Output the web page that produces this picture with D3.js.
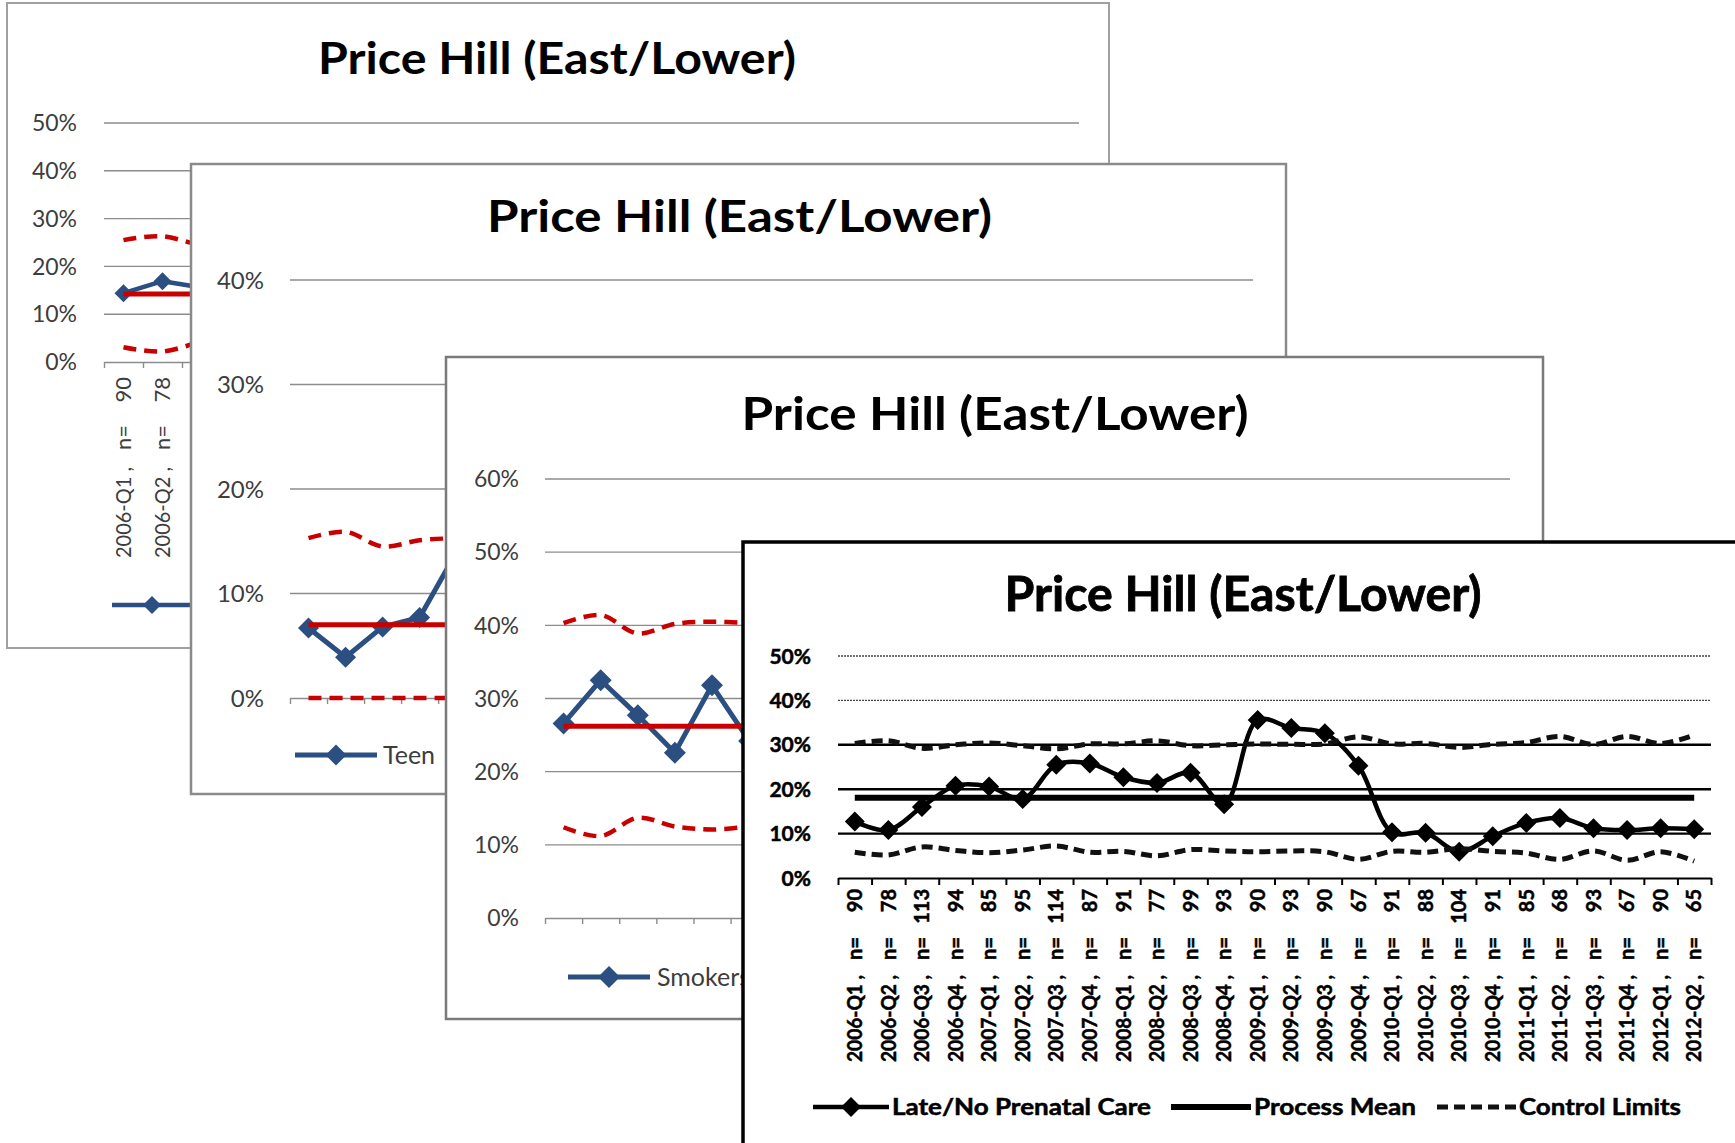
<!DOCTYPE html>
<html>
<head>
<meta charset="utf-8">
<script src="https://cdn.jsdelivr.net/npm/d3@7"></script>
<style>
  html, body { margin: 0; padding: 0; background: #fff; overflow: hidden; }
  svg { display: block; font-family: Lato, "Open Sans", sans-serif; }
</style>
</head>
<body>
<div id="chart"></div>
<script>
// ==============================
// data
// ==============================
const quarters = [
  '2006-Q1', '2006-Q2', '2006-Q3', '2006-Q4', '2007-Q1', '2007-Q2', '2007-Q3', '2007-Q4',
  '2008-Q1', '2008-Q2', '2008-Q3', '2008-Q4', '2009-Q1', '2009-Q2', '2009-Q3', '2009-Q4',
  '2010-Q1', '2010-Q2', '2010-Q3', '2010-Q4', '2011-Q1', '2011-Q2', '2011-Q3', '2011-Q4',
  '2012-Q1', '2012-Q2',
];
const births = [90, 78, 113, 94, 85, 95, 114, 87, 91, 77, 99, 93, 90, 93, 90, 67, 91, 88, 104, 91, 85, 68, 93, 67, 90, 65];
const titleText = 'Price Hill (East/Lower)';

// back panel: only the first points are not covered
const p1Rate = [14.4, 16.9, 15.6];
const p1Mean = 14.2;
const p1Upper = [25.5, 26.3, 24.2];
const p1Lower = [3.1, 2.2, 4.4];
const p1Ticks = [0, 10, 20, 30, 40, 50];

// teen births panel
const teenRate = [6.7, 3.9, 6.8, 7.7, 14.0];
const teenMean = 7.0;
const teenUpper = [15.3, 15.9, 14.5, 15.1, 15.3];
const teenLower = [0, 0, 0, 0, 0];
const teenTicks = [0, 10, 20, 30, 40];

// smokers panel
const smokeRate = [26.6, 32.5, 27.7, 22.6, 31.8, 24.2];
const smokeMean = 26.2;
const smokeUpper = [40.3, 41.4, 38.9, 40.2, 40.5, 40.3];
const smokeLower = [12.4, 11.2, 13.7, 12.5, 12.1, 12.5];
const smokeTicks = [0, 10, 20, 30, 40, 50, 60];

// front panel: late / no prenatal care
const lateCare = [12.7, 10.8, 16.0, 20.8, 20.6, 17.8, 25.5, 25.8, 22.7, 21.4, 23.7, 16.6, 35.6,
  33.8, 32.6, 25.3, 10.3, 10.2, 5.9, 9.4, 12.4, 13.5, 11.2, 10.8, 11.2, 11.0];
const lateMean = 18.1;
const lateUpper = [30.3, 30.9, 29.2, 30.0, 30.4, 29.8, 29.1, 30.2, 30.2, 30.9, 29.8, 30.0, 30.2,
  30.1, 30.2, 31.8, 30.2, 30.3, 29.4, 30.1, 30.5, 31.9, 30.1, 31.9, 30.3, 32.2];
const lateLower = [5.8, 5.2, 7.0, 6.2, 5.7, 6.3, 7.2, 5.8, 6.0, 5.0, 6.4, 6.1, 5.9,
  6.1, 5.9, 4.2, 6.0, 5.8, 6.6, 6.0, 5.6, 4.2, 6.1, 4.0, 5.9, 3.8];
const lateTicks = [0, 10, 20, 30, 40, 50];
const legendLabels = ['Late/No Prenatal Care', 'Process Mean', 'Control Limits'];

// ==============================
// helpers
// ==============================
const W = 1735, H = 1143;
const BLUE = '#2b4f80';
const RED = '#c80000';

const svg = d3.select('#chart').append('svg').attr('width', W).attr('height', H);

const diamond = (r) => `M0,${-r}L${r},0L0,${r}L${-r},0Z`;

function drawPanel(p) {
  const g = svg.append('g');
  const [bx, by, bw, bh] = p.box;

  g.append('rect')
    .attr('x', bx).attr('y', by).attr('width', bw).attr('height', bh)
    .attr('fill', '#fff')
    .attr('stroke', p.border)
    .attr('stroke-width', p.borderW);

  // title
  g.append('text')
    .attr('x', p.title.cx).attr('y', p.title.y)
    .attr('text-anchor', 'middle')
    .attr('font-size', p.title.size)
    .attr('font-weight', 'bold')
    .attr('fill', '#000')
    .attr('stroke', p.heavy ? '#000' : 'none')
    .attr('stroke-width', p.heavy ? 0.8 : 0)
    .attr('textLength', p.title.w)
    .attr('lengthAdjust', 'spacingAndGlyphs')
    .text(titleText);

  // scales
  const x = d3.scaleBand().domain(p.cats).range([p.plot.x0, p.plot.x1]);
  const y = d3.scaleLinear().domain([0, d3.max(p.ticks)]).range([p.plot.y0, p.plot.y1]);
  const mid = (i) => x(p.cats[i]) + x.bandwidth() / 2;

  // gridlines
  g.selectAll('line.grid')
    .data(p.ticks.filter((t) => t > 0))
    .join('line')
    .attr('class', 'grid')
    .attr('x1', p.plot.x0).attr('x2', p.plot.x1)
    .attr('y1', (d) => y(d)).attr('y2', (d) => y(d))
    .each(function (d) { p.gridStyle(d3.select(this), d); });

  // y labels
  g.selectAll('text.ylab')
    .data(p.ticks)
    .join('text')
    .attr('class', 'ylab')
    .attr('x', p.labelRight)
    .attr('y', (d) => y(d))
    .attr('dy', '0.36em')
    .attr('text-anchor', 'end')
    .attr('font-size', p.labelSize)
    .attr('font-weight', p.heavy ? 'bold' : 'normal')
    .attr('fill', p.textColor)
    .attr('stroke', p.heavy ? '#000' : 'none')
    .attr('stroke-width', p.heavy ? 0.5 : 0)
    .text((d) => d + '%');

  // x axis, ticks at category boundaries
  const xi = d3.scaleLinear().domain([0, p.cats.length]).range([p.plot.x0, p.plot.x1]);
  const ax = g.append('g')
    .attr('transform', `translate(0,${p.plot.y0})`)
    .call(d3.axisBottom(xi)
      .tickValues(d3.range(p.cats.length + 1))
      .tickSizeInner(p.tickLen)
      .tickSizeOuter(0)
      .tickFormat(''));
  ax.select('.domain').attr('stroke', p.axisColor).attr('stroke-width', p.axisW);
  ax.selectAll('.tick line').attr('stroke', p.axisColor).attr('stroke-width', p.axisW);

  // category labels: "2006-Q1 ,   n=   90"
  if (p.catLabels) {
    const c = p.catLabels;
    const lab = g.selectAll('g.cat')
      .data(p.cats)
      .join('g')
      .attr('class', 'cat');
    const piece = (sel, off, txt, len) => {
      const t = sel.append('text')
        .attr('transform', (d, i) => `translate(${mid(i)},${p.plot.y0 + off}) rotate(-90)`)
        .attr('dy', '0.36em')
        .attr('text-anchor', 'end')
        .attr('font-size', c.size)
        .attr('font-weight', p.heavy ? 'bold' : 'normal')
        .attr('fill', p.textColor)
        .attr('stroke', p.heavy ? '#000' : 'none')
        .attr('stroke-width', p.heavy ? 0.5 : 0)
        .text(txt);
      if (len) t.attr('textLength', len).attr('lengthAdjust', 'spacingAndGlyphs');
    };
    piece(lab, c.numOff, (d, i) => births[i]);
    piece(lab, c.nOff, 'n=');
    piece(lab, c.dateOff, (d) => `${d} ,`, c.dateLen);
  }

  // series: data, mean, limits
  const s = p.series;
  const dataLine = d3.line().x((d, i) => mid(i)).y((d) => y(d)).curve(p.dataCurve);
  const limLine = d3.line().x((d, i) => mid(i)).y((d) => y(d)).curve(d3.curveCatmullRom);

  g.append('path')
    .attr('d', dataLine(s.rate))
    .attr('fill', 'none')
    .attr('stroke', p.dataColor)
    .attr('stroke-width', p.dataW)
    .attr('stroke-linejoin', 'round');
  g.selectAll('path.mark')
    .data(s.rate)
    .join('path')
    .attr('class', 'mark')
    .attr('transform', (d, i) => `translate(${mid(i)},${y(d)})`)
    .attr('d', diamond(p.markR))
    .attr('fill', p.dataColor);

  g.append('line')
    .attr('x1', mid(0)).attr('x2', mid(p.cats.length - 1))
    .attr('y1', y(s.mean)).attr('y2', y(s.mean))
    .attr('stroke', p.meanColor)
    .attr('stroke-width', p.meanW);

  [s.upper, s.lower].forEach((arr) => {
    g.append('path')
      .attr('d', limLine(arr))
      .attr('fill', 'none')
      .attr('stroke', p.limitColor)
      .attr('stroke-width', p.limitW)
      .attr('stroke-dasharray', p.dash);
  });

  // legend
  const L = p.legend;
  L.items.forEach((it) => {
    const lg = g.append('g');
    const line = lg.append('line')
      .attr('x1', it.x1).attr('x2', it.x2)
      .attr('y1', L.y).attr('y2', L.y);
    if (it.kind === 'data') {
      line.attr('stroke', p.dataColor).attr('stroke-width', p.dataW);
      lg.append('path')
        .attr('transform', `translate(${(it.x1 + it.x2) / 2},${L.y})`)
        .attr('d', diamond(p.markR))
        .attr('fill', p.dataColor);
    } else if (it.kind === 'mean') {
      line.attr('stroke', p.meanColor).attr('stroke-width', p.meanW);
    } else {
      line.attr('stroke', p.limitColor).attr('stroke-width', p.limitW).attr('stroke-dasharray', p.dash);
    }
    if (it.text) {
      const t = lg.append('text')
        .attr('x', it.tx).attr('y', L.y)
        .attr('dy', '0.36em')
        .attr('font-size', L.size)
        .attr('font-weight', p.heavy ? 'bold' : 'normal')
        .attr('fill', p.textColor)
        .attr('stroke', p.heavy ? '#000' : 'none')
        .attr('stroke-width', p.heavy ? 0.5 : 0)
        .text(it.text);
      if (it.tw) t.attr('textLength', it.tw).attr('lengthAdjust', 'spacingAndGlyphs');
    }
  });
}

const softGrid = (sel) => sel.attr('stroke', '#8c8c8c').attr('stroke-width', 1.4);

const common = {
  textColor: '#3d3d3d',
  axisColor: '#8c8c8c',
  axisW: 1.4,
  tickLen: 6,
  gridStyle: softGrid,
  dataColor: BLUE,
  meanColor: RED,
  limitColor: RED,
  dataCurve: d3.curveLinear,
  dash: '13,8',
  heavy: false,
};

// ==============================
// panels, back to front
// ==============================
drawPanel({
  ...common,
  box: [7, 3, 1102, 645],
  border: '#a0a0a0',
  borderW: 2,
  title: { cx: 557, y: 74, size: 44, w: 478 },
  cats: quarters.slice(0, 25),
  ticks: p1Ticks,
  plot: { x0: 104, x1: 1079, y0: 362, y1: 123 },
  labelRight: 77,
  labelSize: 23,
  catLabels: { size: 22, numOff: 15, nOff: 63, dateOff: 105, dateLen: 91 },
  series: { rate: p1Rate, mean: p1Mean, upper: p1Upper, lower: p1Lower },
  markR: 9,
  dataW: 4.5,
  meanW: 5,
  limitW: 4.5,
  legend: { y: 605, size: 24, items: [{ kind: 'data', x1: 112, x2: 192 }] },
});

drawPanel({
  ...common,
  box: [191, 164, 1095, 630],
  border: '#8a8a8a',
  borderW: 2.5,
  title: { cx: 739.5, y: 232, size: 44, w: 505 },
  cats: quarters,
  ticks: teenTicks,
  plot: { x0: 290, x1: 1253, y0: 698, y1: 280 },
  labelRight: 264,
  labelSize: 24,
  series: { rate: teenRate, mean: teenMean, upper: teenUpper, lower: teenLower },
  markR: 10.5,
  dataW: 5,
  meanW: 5,
  limitW: 4.5,
  legend: { y: 755, size: 25, items: [{ kind: 'data', x1: 295, x2: 377, text: 'Teen', tx: 383 }] },
});

drawPanel({
  ...common,
  box: [446, 357, 1097, 662],
  border: '#7a7a7a',
  borderW: 2.5,
  title: { cx: 995, y: 430, size: 45, w: 507 },
  cats: quarters,
  ticks: smokeTicks,
  plot: { x0: 545, x1: 1510, y0: 918, y1: 479 },
  labelRight: 519,
  labelSize: 23,
  series: { rate: smokeRate, mean: smokeMean, upper: smokeUpper, lower: smokeLower },
  markR: 11,
  dataW: 5,
  meanW: 5,
  limitW: 4.5,
  legend: { y: 977, size: 25, items: [{ kind: 'data', x1: 568, x2: 650, text: 'Smokers', tx: 657 }] },
});

drawPanel({
  ...common,
  heavy: true,
  textColor: '#000',
  axisColor: '#000',
  axisW: 2,
  tickLen: 7,
  gridStyle: (sel, d) => (d >= 40
    ? sel.attr('stroke', '#444').attr('stroke-width', 1.3).attr('stroke-dasharray', '2,1')
    : sel.attr('stroke', '#000').attr('stroke-width', 2.4)),
  dataColor: '#000',
  meanColor: '#000',
  limitColor: '#111',
  dataCurve: d3.curveCatmullRom,
  dash: '11,6',
  box: [743, 542, 1100, 700],
  border: '#000',
  borderW: 3.5,
  title: { cx: 1243, y: 611, size: 48, w: 477 },
  cats: quarters,
  ticks: lateTicks,
  plot: { x0: 838, x1: 1711, y0: 878, y1: 656 },
  labelRight: 811,
  labelSize: 21,
  catLabels: { size: 20, numOff: 11, nOff: 59, dateOff: 97, dateLen: 87 },
  series: { rate: lateCare, mean: lateMean, upper: lateUpper, lower: lateLower },
  markR: 10,
  dataW: 4.5,
  meanW: 6,
  limitW: 5,
  legend: {
    y: 1107,
    size: 22,
    items: [
      { kind: 'data', x1: 813, x2: 889, text: legendLabels[0], tx: 892, tw: 259 },
      { kind: 'mean', x1: 1171, x2: 1251, text: legendLabels[1], tx: 1254, tw: 162 },
      { kind: 'limit', x1: 1437, x2: 1517, text: legendLabels[2], tx: 1519, tw: 162 },
    ],
  },
});
</script>
</body>
</html>
